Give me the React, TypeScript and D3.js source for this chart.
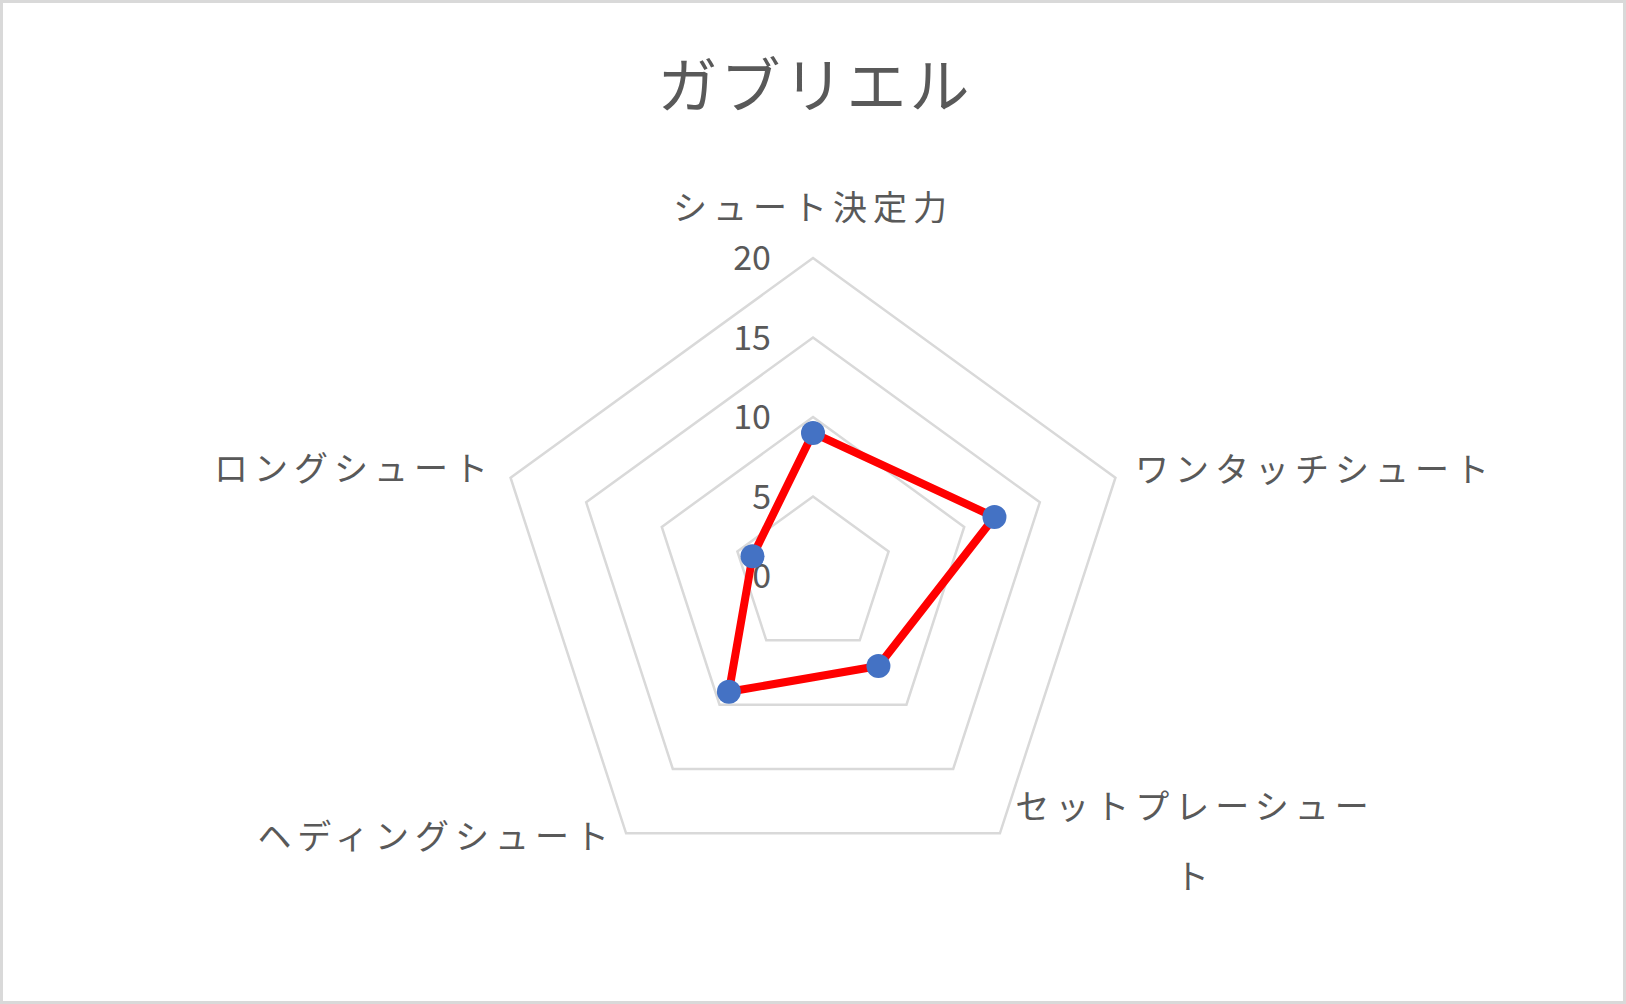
import React from "react";
import * as d3 from "d3";

const title = "ガブリエル";
const categories = ["シュート決定力", "ワンタッチシュート", "セットプレーシュート", "ヘディングシュート", "ロングシュート"];
const values = [9, 12, 7, 9, 4];
const ticks = [0, 5, 10, 15, 20];

const W = 1626;
const H = 1004;
const cx = 813;
const cy = 576;
const font = "'Noto Sans CJK JP', 'Noto Sans', sans-serif";
const textColor = "#595959";

// label anchor placement for each axis (text is positioned around the vertex)
const labelPos = [
  { dx: 0, dy: -356, anchor: "middle", lines: ["シュート決定力"] },
  { dx: 322, dy: -94, anchor: "start", lines: ["ワンタッチシュート"] },
  { dx: 382, dy: 243, anchor: "middle", lines: ["セットプレーシュー", "ト"] },
  { dx: -198, dy: 273, anchor: "end", lines: ["ヘディングシュート"] },
  { dx: -319, dy: -95, anchor: "end", lines: ["ロングシュート"] },
];

const App: React.FC = () => {
  const r = d3.scaleLinear().domain([0, 20]).range([0, 318]);
  const angle = d3.scalePoint<number>().domain(d3.range(categories.length + 1)).range([0, 2 * Math.PI]);

  const radial = d3
    .lineRadial<number>()
    .angle((_, i) => angle(i) as number)
    .radius((d) => r(d))
    .curve(d3.curveLinearClosed);

  const pt = (i: number, v: number) => {
    const a = (angle(i) as number) - Math.PI / 2;
    return [cx + r(v) * Math.cos(a), cy + r(v) * Math.sin(a)];
  };

  return (
    <svg width={W} height={H} style={{ position: "absolute", left: 0, top: 0 }}>
      <rect x={1.5} y={1.5} width={W - 3} height={H - 3} fill="#fff" stroke="#d9d9d9" strokeWidth={3} />
      <text x={cx + 2} y={108} textAnchor="middle" fontFamily={font} fontSize={60} fill={textColor} letterSpacing={3}>
        {title}
      </text>
      <g transform={`translate(${cx},${cy})`}>
        {ticks.slice(1).map((t) => (
          <path key={t} d={radial(categories.map(() => t)) || ""} fill="none" stroke="#d9d9d9" strokeWidth={2.5} />
        ))}
        <path d={radial(values) || ""} fill="none" stroke="#ff0000" strokeWidth={8} strokeLinejoin="round" />
      </g>
      {ticks.map((t) => (
        <text
          key={t}
          x={771}
          y={cy - r(t) + 3}
          textAnchor="end"
          dominantBaseline="middle"
          fontFamily={font}
          fontSize={34}
          fill={textColor}
        >
          {t}
        </text>
      ))}
      {values.map((v, i) => {
        const [x, y] = pt(i, v);
        return <circle key={i} cx={x} cy={y} r={12} fill="#4472c4" />;
      })}
      {categories.map((c, i) => {
        const p = labelPos[i];
        return (
          <text
            key={c}
            x={cx + p.dx}
            y={cy + p.dy}
            textAnchor={p.anchor}
            fontFamily={font}
            fontSize={34}
            fill={textColor}
            letterSpacing={6}
          >
            {p.lines.map((l, j) => (
              <tspan key={j} x={cx + p.dx} dy={j === 0 ? 0 : 70}>
                {l}
              </tspan>
            ))}
          </text>
        );
      })}
    </svg>
  );
};

export default App;
